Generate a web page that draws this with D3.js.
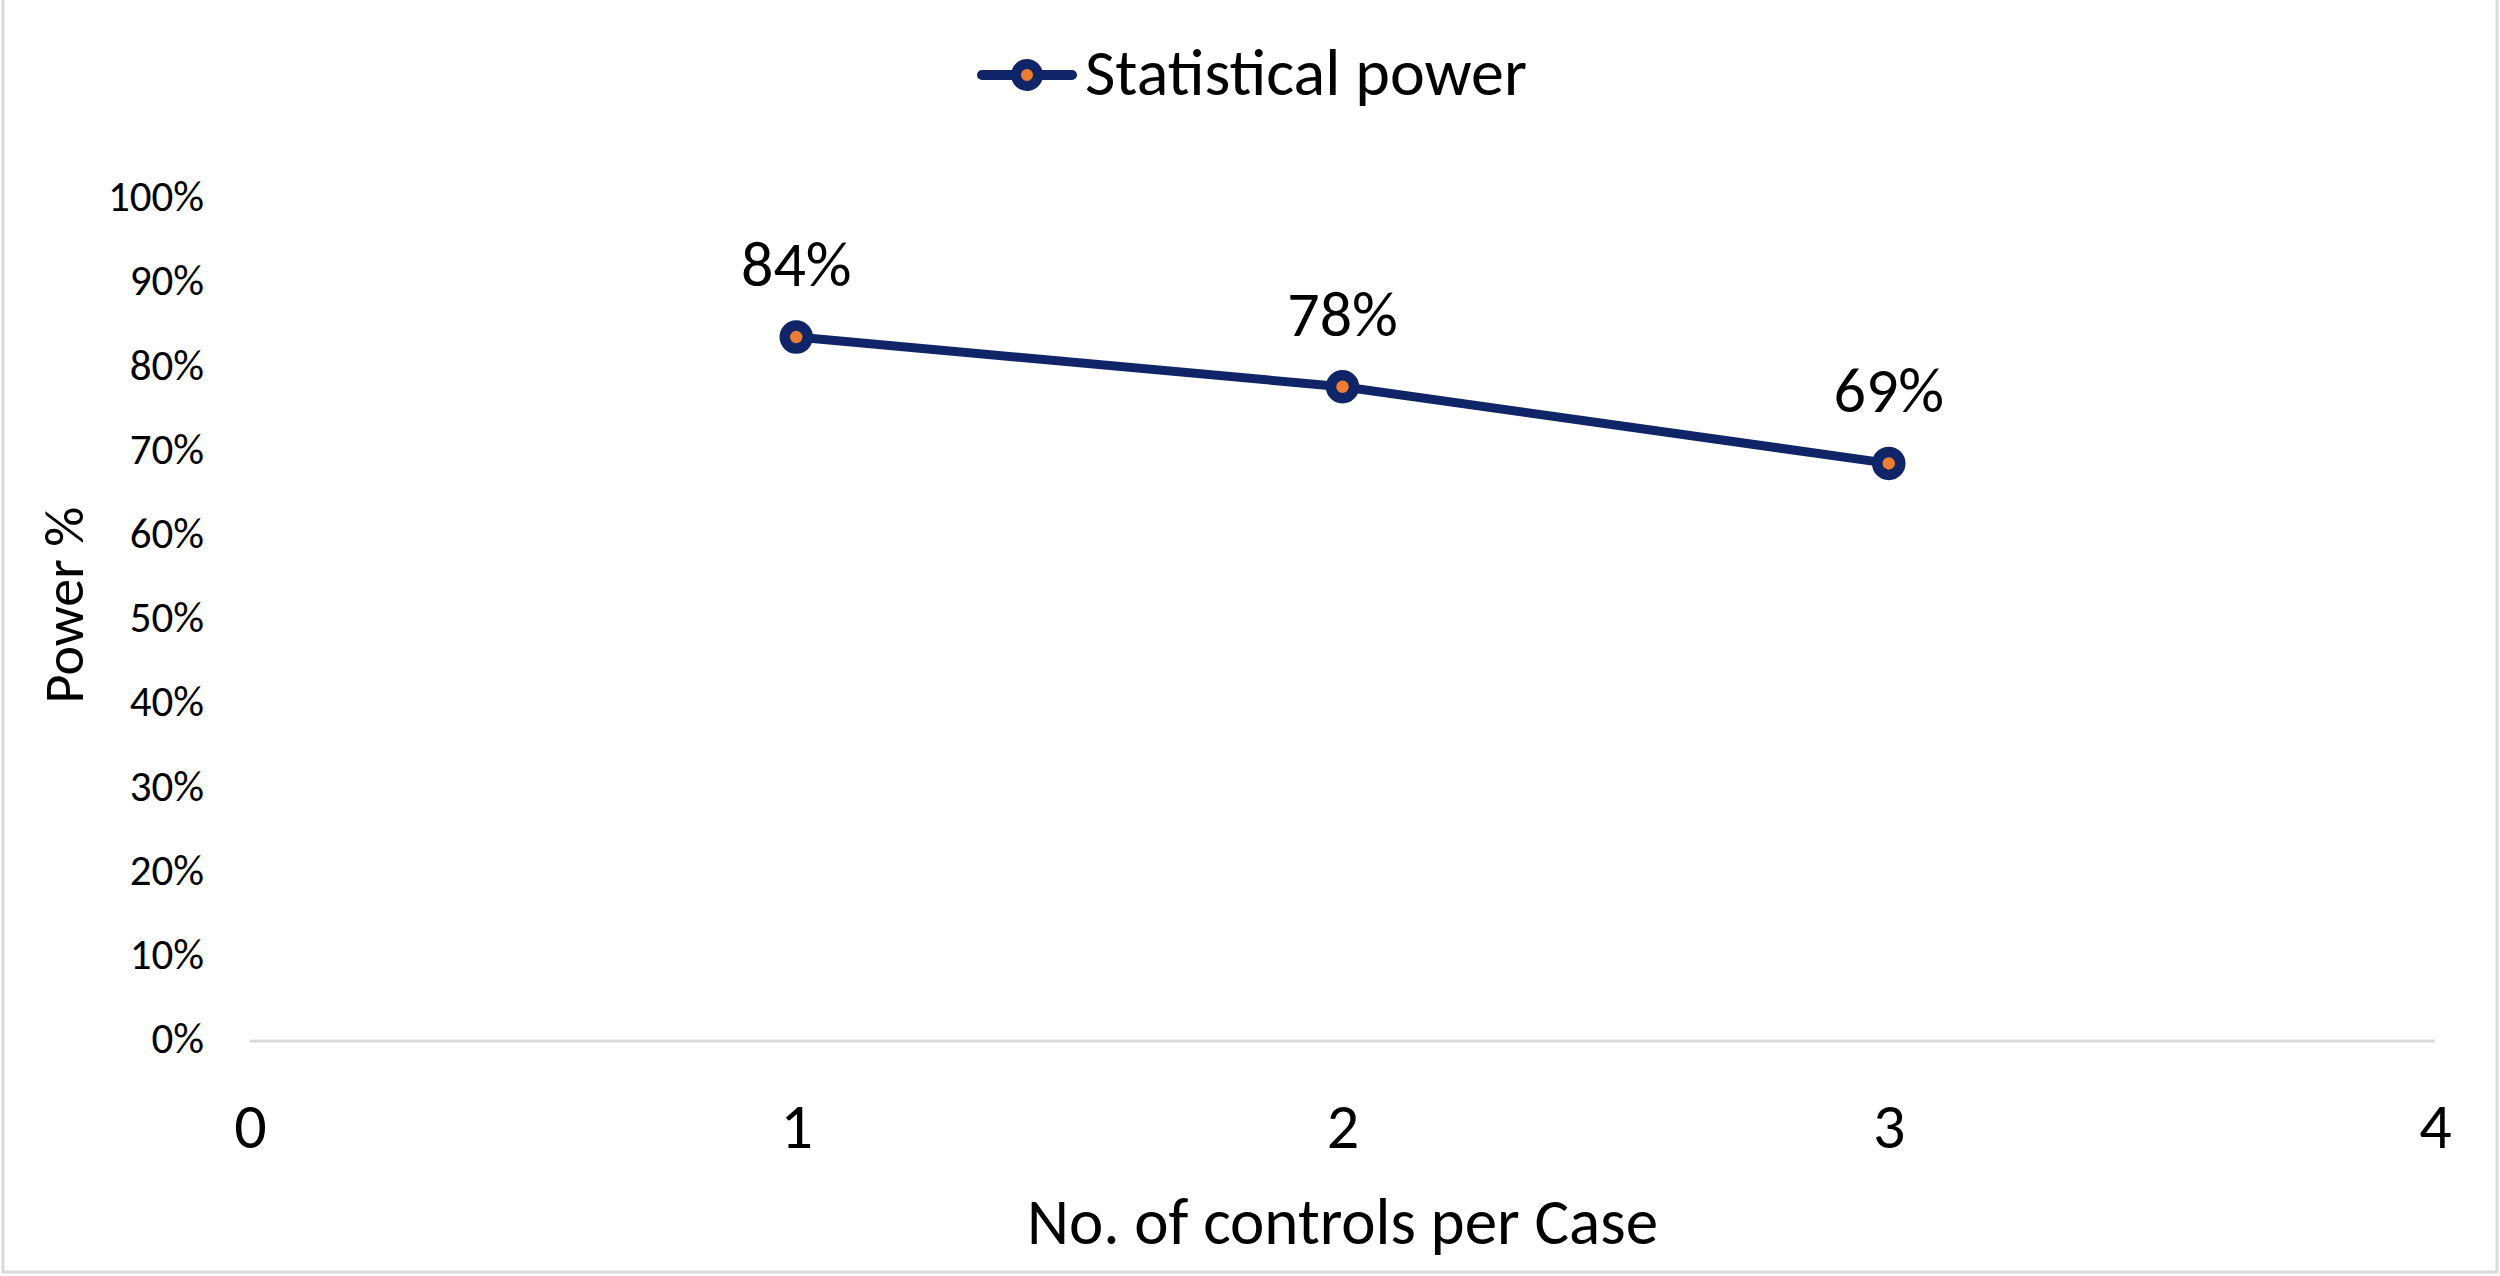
<!DOCTYPE html>
<html>
<head>
<meta charset="utf-8">
<script src="https://cdn.jsdelivr.net/npm/d3@7"></script>
<style>
  html, body { margin: 0; padding: 0; background: #ffffff; }
  svg { display: block; }
  text { font-family: Calibri, Carlito, "Open Sans", "Noto Sans", sans-serif; fill: #000; }
</style>
</head>
<body>
<svg id="chart" width="2500" height="1276"></svg>
<script>
// ---- data ----
const controlsPerCase = [1, 2, 3];
const powerValues = [0.836, 0.777, 0.686];
const seriesName = "Statistical power";
const xTicks = [0, 1, 2, 3, 4];
const yTicks = [0, 0.1, 0.2, 0.3, 0.4, 0.5, 0.6, 0.7, 0.8, 0.9, 1.0];
const xTitle = "No. of controls per Case";
const yTitle = "Power %";

// ---- layout ----
const W = 2500, H = 1276;
const plot = { left: 250, right: 2435, top: 199, bottom: 1041 };
const navy = "#0f2567";
const orange = "#ed7d31";
const FONT = 'Calibri, Carlito, "Open Sans", "Noto Sans", sans-serif';

const svg = d3.select("#chart");

// chart border
svg.append("rect")
  .attr("x", 3).attr("y", -3).attr("width", W - 6).attr("height", H - 1)
  .attr("fill", "none").attr("stroke", "#d9d9d9").attr("stroke-width", 3);

const x = d3.scaleLinear().domain([0, 4]).range([plot.left, plot.right]);
const y = d3.scaleLinear().domain([0, 1]).range([plot.bottom, plot.top]);

// y axis (labels only)
const yAxis = d3.axisLeft(y).tickValues(yTicks).tickFormat(d3.format(".0%")).tickSize(0).tickPadding(0);
const gy = svg.append("g").attr("transform", `translate(${plot.left - 46},0)`).call(yAxis);
gy.select(".domain").remove();
gy.selectAll("text").attr("font-size", 43).attr("dy", "0.27em").attr("fill", "#000")
  .style("font-family", FONT);

// x axis: line at 0% and labels
svg.append("line")
  .attr("x1", x(0)).attr("x2", x(4)).attr("y1", y(0)).attr("y2", y(0))
  .attr("stroke", "#d9d9d9").attr("stroke-width", 3);
const xAxis = d3.axisBottom(x).tickValues(xTicks).tickFormat(d3.format("d")).tickSize(0).tickPadding(0);
const gx = svg.append("g").attr("transform", `translate(0,${plot.bottom + 107})`).call(xAxis);
gx.select(".domain").remove();
gx.selectAll("text").attr("font-size", 64).attr("dy", 0).attr("y", 0).attr("fill", "#000")
  .style("font-family", FONT);

// axis titles
svg.append("text")
  .attr("x", x(2)).attr("y", 1244)
  .attr("text-anchor", "middle").attr("font-size", 65).text(xTitle);
svg.append("text")
  .attr("transform", `translate(63,605) rotate(-90)`)
  .attr("dy", "0.35em").attr("text-anchor", "middle").attr("font-size", 56).text(yTitle);

// line
const data = controlsPerCase.map((c, i) => ({ c, v: powerValues[i] }));
const line = d3.line().x(d => x(d.c)).y(d => y(d.v));
svg.append("path").datum(data)
  .attr("d", line).attr("fill", "none").attr("stroke", navy)
  .attr("stroke-width", 9).attr("stroke-linejoin", "round");

svg.selectAll("circle.pt").data(data).enter().append("circle")
  .attr("class", "pt")
  .attr("cx", d => x(d.c)).attr("cy", d => y(d.v)).attr("r", 11.5)
  .attr("fill", orange).attr("stroke", navy).attr("stroke-width", 10.5);

// data labels
svg.selectAll("text.lbl").data(data).enter().append("text")
  .attr("class", "lbl")
  .attr("x", d => x(d.c)).attr("y", d => y(d.v) - 51)
  .attr("text-anchor", "middle").attr("font-size", 64)
  .text(d => d3.format(".0%")(d.v));

// legend
const lg = svg.append("g").attr("transform", "translate(0,75)");
lg.append("line").attr("x1", 982).attr("x2", 1072).attr("y1", 0).attr("y2", 0)
  .attr("stroke", navy).attr("stroke-width", 10).attr("stroke-linecap", "round");
lg.append("circle").attr("cx", 1027).attr("cy", 0).attr("r", 11)
  .attr("fill", orange).attr("stroke", navy).attr("stroke-width", 10);
lg.append("text").attr("x", 1085).attr("y", 20)
  .attr("font-size", 66).text(seriesName);
</script>
</body>
</html>
